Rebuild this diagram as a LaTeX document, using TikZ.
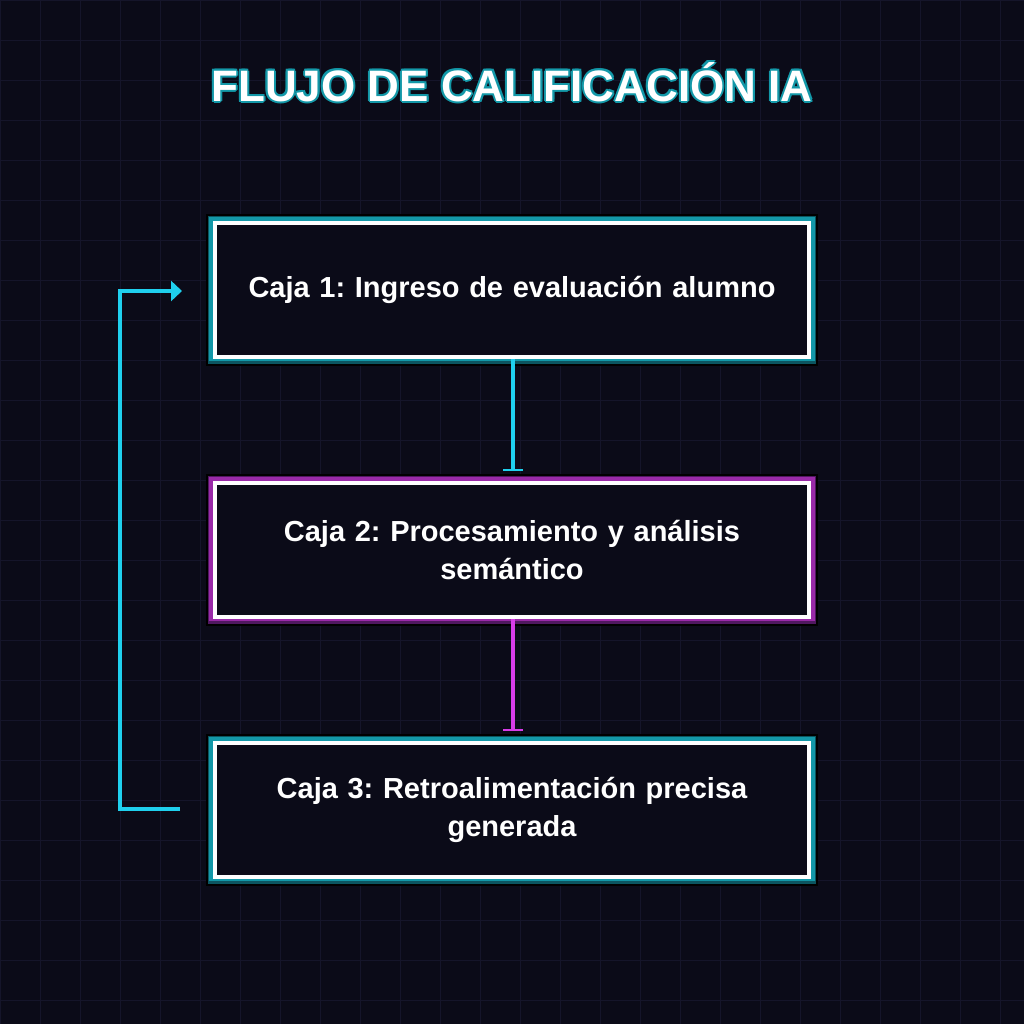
\documentclass[tikz,border=0pt]{standalone}
\usepackage{fontspec}
\setmainfont{Liberation Sans}
\usetikzlibrary{arrows.meta}
\definecolor{bg}{HTML}{0B0B18}
\definecolor{gridc}{HTML}{15152A}
\definecolor{cyn}{HTML}{1FD0EE}
\definecolor{tealg}{HTML}{1398A8}
\definecolor{tealdk}{HTML}{0C5560}
\definecolor{mag}{HTML}{D83CE8}
\definecolor{magg}{HTML}{9A2AA8}
\definecolor{magdk}{HTML}{501860}
\tikzset{
  box/.style={draw=white, line width=4pt, minimum width=594pt, minimum height=134pt, align=center, text width=580pt, font=\bfseries\fontsize{29}{38}\selectfont, text=white, fill=bg},
  conn/.style={line width=3.5pt, -{Bar[width=20pt,line width=2.5pt]}},
}
\newcommand{\glowbox}[4]{%
  \fill[black] (206,#1) rectangle (818,#1+152);
  \fill[#3] (208,#1+2) rectangle (816,#1+150);
  \fill[#2] (209,#1+3) rectangle (815,#1+147);
  \node[box] (#4) at (512,#1+76) {};
}
\begin{document}
\frenchspacing
\begin{tikzpicture}[x=1pt,y=-1pt]
\fill[bg] (0,0) rectangle (1024,1024);
\useasboundingbox (0,0) rectangle (1024,1024);
\foreach \i in {0,40,...,1000} {
  \draw[gridc, line width=0.8pt] (\i,0) -- (\i,1024);
  \draw[gridc, line width=0.8pt] (0,\i) -- (1024,\i);
}
\foreach \dx/\dy in {-2/0,2/0,0/-2,0/2,-1.5/-1.5,1.5/1.5,-1.5/1.5,1.5/-1.5}
  \node[text=tealg, font=\bfseries\fontsize{44}{50}\selectfont] at (512+\dx,82+\dy) {FLUJO DE CALIFICACIÓN IA};
\node[text=white, font=\bfseries\fontsize{44}{50}\selectfont] (title) at (512,82) {FLUJO DE CALIFICACIÓN IA};
\glowbox{214}{tealg}{tealdk}{b1}
\glowbox{474}{magg}{magdk}{b2}
\glowbox{734}{tealg}{tealdk}{b3}
\node[box, draw=none, fill=none] at (b1) {Caja 1: Ingreso de evaluación alumno};
\node[box, draw=none, fill=none] at (b2) {Caja 2: Procesamiento y análisis\\semántico};
\node[box, draw=none, fill=none] at (b3) {Caja 3: Retroalimentación precisa\\generada};
\coordinate (t1) at (513,471);
\coordinate (t2) at (513,731);
\draw[conn, cyn] (b1.south -| t1) -- (t1);
\draw[conn, mag] (b2.south -| t2) -- (t2);
\coordinate (l1) at (180,809);
\coordinate (l2) at (182,291);
\draw[cyn, line width=3.5pt, -{Triangle[width=20pt,length=11pt]}] (l1) -- (120,809) -- (120,291) -- (l2);
\end{tikzpicture}
\end{document}
